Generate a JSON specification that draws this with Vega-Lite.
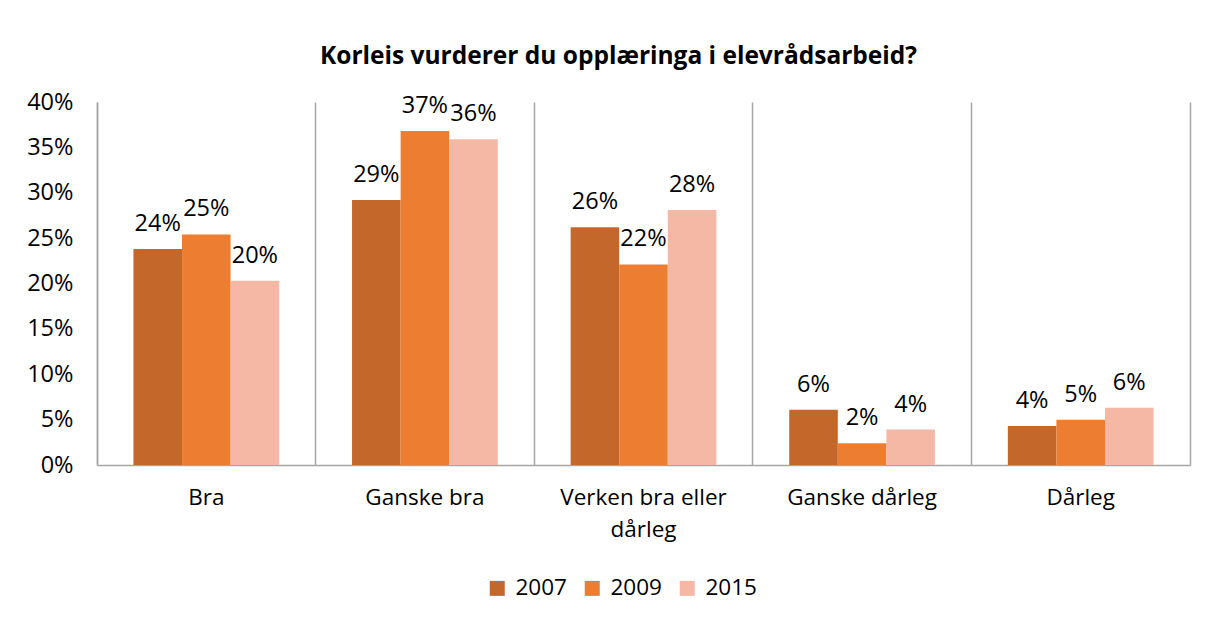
{
  "$schema": "https://vega.github.io/schema/vega-lite/v6.json",
  "width": 1093,
  "height": 363,
  "autosize": {"type": "none"},
  "padding": {"left": 97, "top": 102, "right": 18, "bottom": 156},
  "background": "white",
  "title": {
    "text": "Korleis vurderer du opplæringa i elevrådsarbeid?",
    "font": "Open Sans",
    "fontSize": 24.5,
    "fontWeight": "bold",
    "color": "#000000",
    "anchor": "middle",
    "offset": 21,
    "dx": -25
  },
  "data": {
    "values": [
      {"kategori": "Bra", "år": "2007", "verdi": 0.238},
      {"kategori": "Bra", "år": "2009", "verdi": 0.254},
      {"kategori": "Bra", "år": "2015", "verdi": 0.203},
      {"kategori": "Ganske bra", "år": "2007", "verdi": 0.292},
      {"kategori": "Ganske bra", "år": "2009", "verdi": 0.368},
      {"kategori": "Ganske bra", "år": "2015", "verdi": 0.359},
      {"kategori": "Verken bra eller dårleg", "år": "2007", "verdi": 0.262},
      {"kategori": "Verken bra eller dårleg", "år": "2009", "verdi": 0.221},
      {"kategori": "Verken bra eller dårleg", "år": "2015", "verdi": 0.281},
      {"kategori": "Ganske dårleg", "år": "2007", "verdi": 0.061},
      {"kategori": "Ganske dårleg", "år": "2009", "verdi": 0.024},
      {"kategori": "Ganske dårleg", "år": "2015", "verdi": 0.039},
      {"kategori": "Dårleg", "år": "2007", "verdi": 0.043},
      {"kategori": "Dårleg", "år": "2009", "verdi": 0.050},
      {"kategori": "Dårleg", "år": "2015", "verdi": 0.063}
    ]
  },
  "encoding": {
    "x": {
      "field": "kategori",
      "type": "nominal",
      "sort": ["Bra", "Ganske bra", "Verken bra eller dårleg", "Ganske dårleg", "Dårleg"],
      "scale": {"paddingInner": 0, "paddingOuter": 0},
      "axis": {
        "title": null,
        "labelAngle": 0,
        "labelFont": "Open Sans",
        "labelFontSize": 22.5,
        "labelColor": "#000000",
        "labelPadding": 21,
        "labelLineHeight": 32,
        "labelExpr": "datum.label == 'Verken bra eller dårleg' ? ['Verken bra eller', 'dårleg'] : datum.label",
        "ticks": false,
        "domain": true,
        "domainColor": "#a6a6a6",
        "domainWidth": 1.5,
        "grid": true,
        "gridColor": "#a6a6a6",
        "gridWidth": 1.5,
        "bandPosition": 0
      }
    },
    "xOffset": {
      "field": "år",
      "type": "nominal",
      "scale": {"paddingInner": 0, "paddingOuter": 0.75}
    },
    "y": {
      "field": "verdi",
      "type": "quantitative",
      "scale": {"domain": [0, 0.4]}
    }
  },
  "layer": [
    {
      "mark": {"type": "bar"},
      "encoding": {
        "y": {
          "field": "verdi",
          "type": "quantitative",
          "scale": {"domain": [0, 0.4]},
          "axis": {
            "title": null,
            "values": [0, 0.05, 0.1, 0.15, 0.2, 0.25, 0.3, 0.35, 0.4],
            "format": ".0%",
            "labelFont": "Open Sans",
            "labelFontSize": 23.5,
            "labelColor": "#000000",
            "labelPadding": 24,
            "ticks": false,
            "grid": false,
            "domain": true,
            "domainColor": "#a6a6a6",
            "domainWidth": 1.5
          }
        },
        "color": {
          "field": "år",
          "type": "nominal",
          "scale": {"domain": ["2007", "2009", "2015"], "range": ["#c4672b", "#ed7d31", "#f4b8a4"]},
          "legend": {
            "title": null,
            "orient": "none",
            "legendX": 389,
            "legendY": 475,
            "direction": "horizontal",
            "symbolType": "square",
            "symbolSize": 225,
            "symbolStrokeWidth": 0,
            "labelFont": "Open Sans",
            "labelFontSize": 22.5,
            "labelColor": "#000000",
            "columnPadding": 14,
            "labelOffset": 7
          }
        }
      }
    },
    {
      "mark": {
        "type": "text",
        "baseline": "bottom",
        "dy": -13,
        "font": "Open Sans",
        "fontSize": 23.5,
        "color": "#000000"
      },
      "encoding": {
        "y": {
          "field": "verdi",
          "type": "quantitative",
          "scale": {"domain": [0, 0.4]},
          "axis": {
            "orient": "right",
            "title": null,
            "labels": false,
            "ticks": false,
            "grid": false,
            "domain": true,
            "domainColor": "#a6a6a6",
            "domainWidth": 1.5
          }
        },
        "text": {"field": "verdi", "type": "quantitative", "format": ".0%"}
      }
    }
  ],
  "resolve": {"axis": {"y": "independent"}},
  "config": {
    "view": {"stroke": null}
  }
}
